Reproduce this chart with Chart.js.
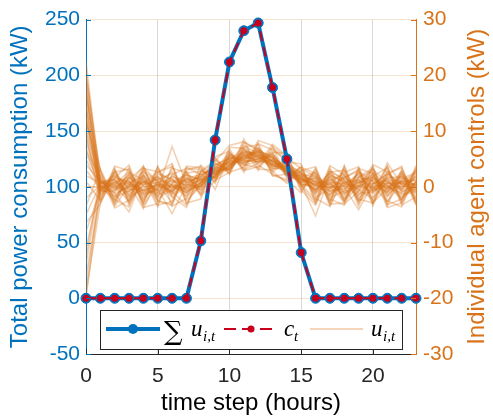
<!DOCTYPE html>
<html>
<head>
<meta charset="utf-8">
<script src="https://cdn.jsdelivr.net/npm/chart.js@4.4.1/dist/chart.umd.min.js"></script>
<style>
  html, body { margin: 0; padding: 0; background: #fff; }
</style>
</head>
<body>
<canvas id="myChart" width="493" height="416"></canvas>
<script>
const hours = [0, 1, 2, 3, 4, 5, 6, 7, 8, 9, 10, 11, 12, 13, 14, 15, 16, 17, 18, 19, 20, 21, 22, 23];
const xTicks = [0, 5, 10, 15, 20];

// left axis (kW)
const totalPower = [0, 0, 0, 0, 0, 0, 0, 0, 51.5, 142, 212, 240, 247, 189, 125, 41, 0, 0, 0, 0, 0, 0, 0, 0];
const targetPower = [0, 0, 0, 0, 0, 0, 0, 0, 51.5, 142, 212, 240, 247, 189, 125, 41, 0, 0, 0, 0, 0, 0, 0, 0];

// right axis, one row per agent
const agentControls = [
  [22.5, 0.5, 1.2, -1.5, 2.0, 0.3, -0.8, 1.5, 2.2, 3.1, 5.0, 6.2, 5.8, 4.1, 3.0, 1.2, -0.5, 1.8, -1.2, 0.4, 2.5, -0.9, 1.1, 0.2],
  [21.0, -0.3, -1.8, 0.6, -0.4, 1.9, 0.2, -1.1, 0.8, 2.4, 4.1, 4.9, 6.6, 5.2, 2.7, 2.1, 0.9, -1.7, 0.5, 2.2, -0.6, 1.4, -2.1, 0.9],
  [19.5, 1.1, 0.4, 2.8, -1.2, -0.6, 7.2, 0.5, -0.4, 3.6, 3.2, 5.7, 4.8, 3.9, 4.4, 0.8, 1.6, 0.3, 2.9, -1.4, 0.1, -2.6, 0.7, 1.9],
  [18.0, -0.9, 2.3, -0.2, 1.0, -2.5, 0.6, 2.1, 1.3, 1.8, 5.5, 4.2, 5.1, 6.3, 2.2, 1.9, -1.0, 0.9, -2.3, 1.1, 1.7, 0.3, -1.5, -0.8],
  [17.0, 0.2, -0.7, 1.4, 3.5, 0.9, -1.9, 0.1, 2.6, 2.9, 4.6, 7.3, 6.0, 4.6, 3.3, 0.4, 0.2, 2.4, 0.6, -0.5, -2.2, 4.3, 0.4, 1.3],
  [16.0, 0.8, 0.1, -2.6, 0.5, 1.3, 2.4, -0.7, 0.2, 2.0, 3.7, 5.4, 7.0, 3.5, 3.9, 2.6, -1.8, -0.4, 1.7, 2.8, 0.9, -1.1, 2.6, -0.3],
  [15.0, -0.5, 1.6, 0.9, -1.8, -0.2, 0.8, 1.2, 1.7, 4.2, 2.9, 6.0, 5.3, 5.0, 1.8, 1.5, 1.3, -2.0, -0.7, 0.6, 3.1, 0.8, -0.6, 2.2],
  [14.0, 1.4, -1.2, -4.5, 2.1, -1.4, -0.5, 2.8, -0.9, 3.3, 6.1, 3.8, 4.6, 4.9, 4.0, 0.2, 0.6, 1.1, 2.3, -1.9, -0.3, 1.6, 1.8, -1.6],
  [13.0, -1.2, 0.9, -0.8, 0.7, 2.6, 1.1, -1.6, 1.0, 2.7, 4.4, 5.1, 6.9, 4.4, 2.5, 3.0, -0.3, 0.5, -1.6, 1.5, 1.2, -0.4, 0.1, 0.6],
  [12.5, 0.0, -2.4, 1.8, -0.9, 0.4, -1.3, 0.7, 1.9, 1.5, 3.4, 6.6, 5.5, 3.2, 3.6, 1.1, 2.2, -1.1, 0.2, -0.2, 4.0, 2.7, -0.9, -0.1],
  [12.0, 0.6, 0.3, -1.0, 1.6, -0.9, 2.0, 0.0, 0.4, 3.8, 5.2, 4.5, 6.2, 5.7, 2.9, 1.7, -0.6, 1.9, 1.0, 0.7, 2.0, -1.8, 1.4, 2.6],
  [11.0, -0.7, 1.9, 0.5, -3.9, 1.6, -0.2, 1.8, -1.3, 2.2, 3.9, 5.9, 4.3, 4.7, 3.1, 2.4, 0.8, -0.8, -0.4, 1.9, -0.7, 0.5, -2.4, 1.0],
  [10.0, 1.0, -0.4, 2.2, 0.2, -1.7, 0.4, -0.4, 2.4, 2.5, 4.8, 4.0, 5.9, 3.7, 3.4, 0.6, 1.9, 0.1, -2.7, 0.3, 0.6, 1.2, 0.8, -1.2],
  [9.0, -0.2, 0.7, -1.9, 2.6, 0.7, -1.0, 1.0, 0.6, 3.0, 3.0, 6.8, 5.0, 5.4, 2.0, 2.8, -0.9, 2.7, 1.4, -2.4, 1.6, -0.2, 2.0, 0.0],
  [8.0, 0.4, -1.5, 0.3, -1.1, 2.2, 1.4, -1.3, 1.5, 1.9, 5.8, 5.0, 6.4, 4.2, 3.7, 1.4, 0.4, -1.4, 0.8, 1.3, -1.9, 0.9, -0.3, 1.7],
  [7.0, -1.0, 2.7, -0.5, 0.9, -0.4, -4.8, 0.4, 0.0, 3.5, 4.3, 5.3, 4.9, 5.9, 2.6, 0.9, 1.0, 0.7, -1.0, 0.0, 2.3, -1.4, 1.2, -2.0],
  [6.0, 0.3, 0.0, 1.1, -2.3, 1.0, 0.9, 2.2, 1.1, 2.8, 3.6, 6.4, 5.7, 3.3, 3.2, 2.2, -1.4, 1.4, 0.0, 2.4, -0.4, 0.0, -1.1, 0.5],
  [5.0, -0.6, -0.9, 2.5, 1.3, -1.1, 0.0, -0.9, 1.8, 4.0, 5.0, 4.7, 6.7, 5.1, 2.3, 1.3, 0.3, -0.2, 2.0, -0.9, 0.4, 2.4, 0.5, 1.4],
  [4.0, 0.9, 1.3, -1.3, 0.0, 0.2, 1.8, 0.9, -0.6, 2.1, 4.0, 5.6, 4.5, 4.8, 2.9, 1.8, 2.5, -0.6, -0.3, 0.8, 1.0, -0.7, 2.3, -0.6],
  [3.0, -0.4, 0.5, 0.7, 1.9, -2.0, -0.6, 1.4, 0.9, 2.6, 3.3, 7.0, 5.2, 4.0, 3.5, 0.5, -5.2, 2.1, 1.1, -1.1, -1.0, 1.9, -0.5, 0.8],
  [2.0, 0.7, -0.2, -0.4, -0.7, 0.6, 2.7, -0.2, 1.4, 1.6, 4.7, 4.3, 5.6, 5.5, 2.1, 2.0, 0.7, 0.4, -1.3, 1.7, 2.8, -0.1, 0.9, 1.1],
  [0.0, -0.1, 1.0, 1.6, 0.4, 1.5, -1.5, 0.6, 2.0, 3.4, 3.1, 5.8, 6.1, 4.3, 3.8, 1.6, -0.7, 0.8, 0.5, 0.2, -0.2, 1.0, -1.3, -0.4],
  [-2.0, 0.2, -1.1, -0.1, 1.1, -0.7, 0.3, -1.8, 0.3, 2.3, 5.3, 4.8, 4.4, 6.0, 2.4, 1.0, 1.5, -1.5, 1.8, -0.6, 0.7, -1.0, 1.6, 0.3],
  [-5.0, 0.5, 2.0, -1.7, -0.5, 0.0, 1.2, 0.3, 1.2, 1.7, 3.8, 6.1, 5.4, 3.6, 4.2, 2.5, 0.0, 1.2, -0.8, 2.6, 0.2, 0.6, 0.0, 1.8],
  [-8.0, -0.8, -0.6, 0.0, 2.9, 1.1, -0.9, 1.6, -0.2, 3.2, 4.5, 5.2, 6.5, 4.5, 2.8, 0.3, 1.1, -0.3, 0.3, -1.6, 1.4, -0.5, 1.9, -1.0],
  [-11.0, 0.1, 0.8, 1.2, -1.5, -0.3, 0.5, -0.6, 0.7, 2.0, 4.9, 4.4, 5.0, 5.3, 3.3, 1.9, -1.2, 2.9, 1.3, 0.9, -1.2, 1.5, -0.8, 0.4],
  [-14.0, 1.2, -1.9, -0.7, 0.8, 1.8, -0.4, 1.1, 1.6, 2.5, 3.5, 6.3, 5.8, 3.8, 2.7, 1.3, 0.5, 0.0, -0.1, -4.1, 0.5, 2.2, 0.3, -0.7],
  [-16.0, -1.4, 0.2, 0.4, -0.6, -1.2, 1.5, -1.0, 0.5, 3.9, 4.2, 5.5, 6.3, 4.6, 3.6, 2.3, 1.7, -0.9, 0.7, -0.3, 1.8, -1.6, 1.0, 2.4],
  [-18.0, 0.6, 1.4, -2.2, 0.3, 0.8, -1.1, 2.5, 2.8, 2.2, 5.6, 4.6, 4.7, 5.6, 2.2, 0.7, -0.4, 1.6, -2.0, 1.2, 0.0, 0.2, -1.9, 0.1],
  [-20.0, -0.2, -0.3, 0.8, -1.3, 0.5, 0.1, -0.3, 0.1, 3.0, 4.0, 5.0, 5.5, 4.0, 3.0, 1.5, 0.3, -0.1, 0.9, 0.1, -0.8, 0.7, 0.6, -0.2],
  [20.0, 2.4, -3.1, 1.9, -2.8, 3.6, -0.9, -3.3, 2.9, 4.6, 7.4, 8.1, 6.4, 2.6, 4.8, -0.8, 2.8, -3.4, 1.5, 3.2, -2.7, 2.9, -0.4, 3.0],
  [18.5, -1.9, 3.4, -2.9, 3.1, -1.8, 3.3, 2.6, -1.7, 1.2, 2.6, 3.5, 8.3, 7.4, 1.5, 3.4, -2.6, 3.0, -3.1, -0.8, 3.5, -2.9, 3.1, -2.5],
  [16.5, 2.8, -2.6, 3.5, -3.4, 0.5, -2.9, 3.7, 3.4, 0.6, 6.8, 2.9, 3.6, 7.2, 5.2, -0.3, 3.1, -2.8, 3.3, -2.6, -0.5, 3.6, -3.0, 1.1],
  [14.5, -2.2, 2.9, -3.3, 1.4, -3.6, 3.9, -2.4, 0.1, 5.0, 2.2, 7.8, 3.9, 2.3, 1.0, 3.8, -2.1, -3.5, 2.6, 3.6, -2.8, -0.3, 2.8, -3.1],
  [11.5, 3.0, -3.5, 0.2, 3.8, -2.7, -3.1, 3.0, 3.7, -0.5, 5.9, 3.3, 7.7, 6.6, 4.9, 0.1, -2.9, 3.5, -2.5, 1.8, 3.3, -3.2, -2.2, 3.2],
  [9.5, -2.7, 1.7, 3.9, -2.9, 3.2, -1.8, -3.7, 2.7, 4.3, 2.5, 8.6, 3.2, 3.0, 5.3, 3.2, 1.9, -2.6, 3.7, -3.0, 1.9, 3.4, -3.3, -1.8],
  [6.5, 1.8, -3.8, -2.4, 3.3, 2.7, 3.6, -2.9, -2.2, 5.4, 6.4, 2.6, 7.9, 2.1, 1.3, -1.1, 3.4, -2.2, -3.3, 2.9, -3.4, 2.5, 3.4, -2.7],
  [1.0, -2.5, 3.7, 2.9, -3.7, -3.0, 2.2, 3.3, 3.1, 0.9, 7.1, 6.9, 2.9, 6.9, 4.5, 4.1, -3.0, 2.6, 3.0, -3.5, 2.6, -2.5, -3.6, 2.9],
  [-3.5, 3.2, -2.3, -3.6, 2.4, -3.3, -2.6, 2.3, -1.4, 4.8, 3.0, 8.0, 6.8, 2.8, 0.6, 2.9, 3.6, -3.1, -2.9, 3.4, -3.1, 3.8, -2.6, 3.5],
  [-6.5, -3.1, 2.6, 3.2, -2.2, 3.7, -3.5, -2.1, 3.9, 1.4, 6.2, 3.1, 4.2, 7.6, 5.6, 0.5, -2.4, 3.8, 2.2, -2.7, 3.7, -3.4, 2.5, -3.3],
  [-12.5, 2.1, -3.0, 2.4, -3.1, 2.5, 4.2, -3.0, 0.8, 5.3, 2.4, 7.2, 7.5, 1.9, 2.3, 3.5, 2.4, -2.9, 3.8, -2.2, -2.9, 2.1, 3.7, -2.9],
  [-19.0, -2.9, 3.1, -2.7, 3.6, -2.4, -3.4, 3.5, 2.2, 1.1, 5.4, 4.0, 3.4, 6.2, 6.0, -0.6, -3.3, 2.3, -2.4, 3.3, 2.4, -3.7, -2.9, 3.8]
];

const blue = "#0072BD";
const red = "#C8001E";
const orange = "#D9731A";
const agentColor = "rgba(217,115,26,0.33)";
const fontFamily = "'Liberation Sans', Arial, Helvetica, sans-serif";

const toPoints = (arr) => arr.map((v, i) => ({ x: hours[i], y: v }));

// matlab style: ticks point into the plot, legend box inside the axes
const inwardTicks = {
  id: "inwardTicks",
  afterDraw(chart) {
    const c = chart.ctx;
    const { x, y, y2 } = chart.scales;
    const a = chart.chartArea;
    c.save();
    c.lineWidth = 1;
    c.strokeStyle = blue;
    y.ticks.forEach((t) => {
      const py = Math.round(y.getPixelForValue(t.value)) + 0.5;
      c.beginPath(); c.moveTo(a.left, py); c.lineTo(a.left + 5, py); c.stroke();
    });
    c.strokeStyle = orange;
    y2.ticks.forEach((t) => {
      const py = Math.round(y2.getPixelForValue(t.value)) + 0.5;
      c.beginPath(); c.moveTo(a.right, py); c.lineTo(a.right - 5, py); c.stroke();
    });
    c.strokeStyle = "#262626";
    x.ticks.forEach((t) => {
      const px = Math.round(x.getPixelForValue(t.value)) + 0.5;
      c.beginPath(); c.moveTo(px, a.bottom); c.lineTo(px, a.bottom - 5); c.stroke();
    });

    // right axis title reads bottom to top, like the left one
    c.translate(477, (a.top + a.bottom) / 2);
    c.rotate(-Math.PI / 2);
    c.fillStyle = orange;
    c.font = "24px " + fontFamily;
    c.textAlign = "center";
    c.textBaseline = "middle";
    c.fillText("Individual agent controls (kW)", 0, 0);
    c.restore();
  }
};

const mathLegend = {
  id: "mathLegend",
  afterDraw(chart) {
    const c = chart.ctx;
    c.save();
    c.fillStyle = "#fff";
    c.fillRect(100, 310, 302, 39);
    c.strokeStyle = "#262626";
    c.lineWidth = 1;
    c.strokeRect(100.5, 310.5, 302, 39);
    const ly = 329;

    c.strokeStyle = blue; c.lineWidth = 4;
    c.beginPath(); c.moveTo(106, ly); c.lineTo(160, ly); c.stroke();
    c.fillStyle = blue;
    c.beginPath(); c.arc(133, ly, 5, 0, Math.PI * 2); c.fill();

    c.strokeStyle = red; c.lineWidth = 2; c.setLineDash([12, 6]);
    c.beginPath(); c.moveTo(224, ly); c.lineTo(278, ly); c.stroke();
    c.setLineDash([]);
    c.fillStyle = red;
    c.beginPath(); c.arc(251, ly, 3.5, 0, Math.PI * 2); c.fill();

    c.strokeStyle = "rgba(217,115,26,0.3)"; c.lineWidth = 2;
    c.beginPath(); c.moveTo(310, ly); c.lineTo(363, ly); c.stroke();

    c.fillStyle = "#000";
    c.textBaseline = "alphabetic";
    c.font = "26px 'DejaVu Serif', 'Liberation Serif', serif";
    c.fillText("\u2211", 164, 340);
    const it = "italic 23px 'Liberation Serif', 'DejaVu Serif', serif";
    const sub = "italic 15px 'Liberation Serif', 'DejaVu Serif', serif";
    c.font = it; c.fillText("u", 191, 336);
    c.font = sub; c.fillText("i,t", 203, 341);
    c.font = it; c.fillText("c", 284, 336);
    c.font = sub; c.fillText("t", 294, 341);
    c.font = it; c.fillText("u", 371, 336);
    c.font = sub; c.fillText("i,t", 383, 341);
    c.restore();
  }
};

const datasets = [
  {
    data: toPoints(targetPower),
    yAxisID: "y",
    borderColor: red,
    borderWidth: 2,
    borderDash: [10, 6],
    pointRadius: 3.5,
    pointBackgroundColor: red,
    pointBorderWidth: 0,
    clip: false,
    order: 0
  },
  {
    data: toPoints(totalPower),
    yAxisID: "y",
    borderColor: blue,
    borderWidth: 4,
    pointRadius: 5,
    pointBackgroundColor: blue,
    pointBorderColor: blue,
    pointBorderWidth: 1,
    clip: false,
    order: 1
  }
];
agentControls.forEach((row) => {
  datasets.push({
    data: toPoints(row),
    yAxisID: "y2",
    borderColor: agentColor,
    borderWidth: 1.6,
    pointRadius: 0,
    order: 2
  });
});

const ctx = document.getElementById("myChart");
const chart = new Chart(ctx, {
  type: "line",
  data: { datasets: datasets },
  options: {
    responsive: false,
    animation: false,
    layout: { padding: { top: 16, left: 0, right: 0, bottom: 0 } },
    plugins: { legend: { display: false }, tooltip: { enabled: false } },
    scales: {
      x: {
        type: "linear",
        min: 0,
        max: 23,
        afterBuildTicks: (s) => { s.ticks = xTicks.map((v) => ({ value: v })); },
        afterFit: (s) => { s.height = 62; },
        ticks: { color: "#262626", font: { family: fontFamily, size: 21 }, padding: 10, maxRotation: 0 },
        grid: {
          color: (c) => (c.tick && c.tick.value === 0 ? "rgba(0,0,0,0)" : "rgba(0,0,0,0.15)"),
          drawTicks: false
        },
        border: { color: "#262626", width: 1 },
        title: {
          display: true,
          text: "time step (hours)",
          color: "#000",
          font: { family: fontFamily, size: 24, lineHeight: 1 },
          padding: { top: 0, bottom: 1 }
        }
      },
      y: {
        position: "left",
        min: -50,
        max: 250,
        afterFit: (s) => { s.width = 86; },
        ticks: { stepSize: 50, color: blue, font: { family: fontFamily, size: 21 }, padding: 6 },
        grid: { display: false, drawTicks: false },
        border: { color: blue, width: 1 },
        title: {
          display: true,
          text: "Total power consumption (kW)",
          color: blue,
          font: { family: fontFamily, size: 24, lineHeight: 1 },
          padding: { top: 8, bottom: 0 }
        }
      },
      y2: {
        position: "right",
        min: -30,
        max: 30,
        afterFit: (s) => { s.width = 77; },
        ticks: { stepSize: 10, color: orange, font: { family: fontFamily, size: 21 }, padding: 7 },
        grid: { color: "rgba(217,115,26,0.2)", drawTicks: false },
        border: { color: orange, width: 1 }
      }
    }
  },
  plugins: [inwardTicks, mathLegend]
});
</script>
</body>
</html>
